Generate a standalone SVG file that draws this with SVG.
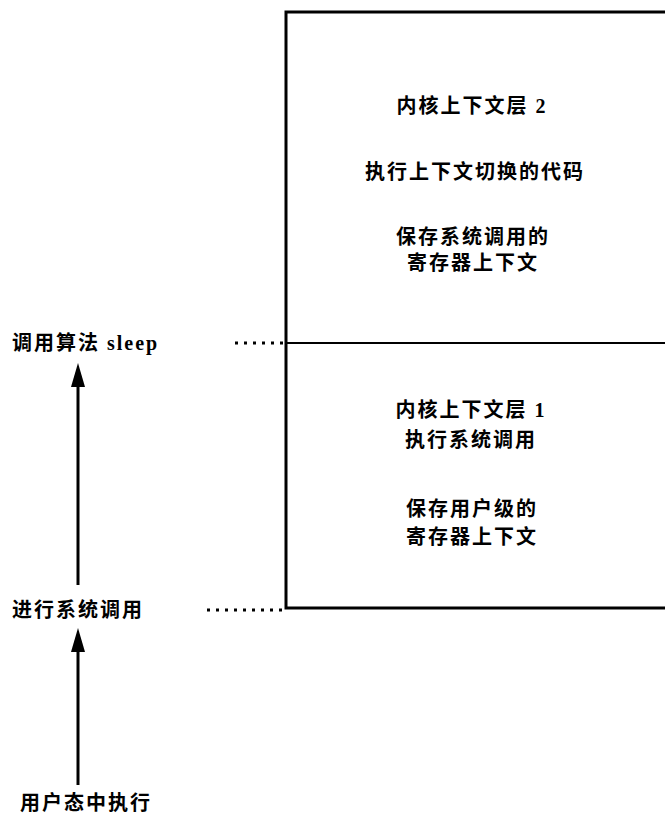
<svg xmlns="http://www.w3.org/2000/svg" width="665" height="815" viewBox="0 0 665 815">
<style>
  .t { font-family: "Liberation Serif", "Noto Sans CJK SC", serif; font-weight: bold; font-size: 20px; letter-spacing: 2px; fill: #000; }
  .c { text-anchor: middle; }
  .box { fill: none; stroke: #000; stroke-width: 3; }
  .div { fill: none; stroke: #000; stroke-width: 2; }
  .dot { fill: none; stroke: #000; stroke-width: 3; stroke-dasharray: 3 6; }
  .arr { fill: none; stroke: #000; stroke-width: 3; }
</style>
<defs>
  <marker id="ah" markerUnits="userSpaceOnUse" markerWidth="24" markerHeight="16" refX="2" refY="8" orient="auto" viewBox="0 0 24 16">
    <path d="M24,8 L0,15 L0,1 Z" fill="#000"/>
  </marker>
</defs>
<rect width="665" height="815" fill="#fff"/>
<g id="stack">
  <path class="box" d="M667,12 H286 V608 H667"/>
  <path class="div" d="M286,343 H667"/>
</g>
<g id="layer2">
  <text class="t c" x="472" y="113">内核上下文层 2</text>
  <text class="t c" x="475" y="179">执行上下文切换的代码</text>
  <text class="t c" x="473" y="244">保存系统调用的</text>
  <text class="t c" x="473" y="270">寄存器上下文</text>
</g>
<g id="layer1">
  <text class="t c" x="471" y="417">内核上下文层 1</text>
  <text class="t c" x="471" y="447">执行系统调用</text>
  <text class="t c" x="472" y="516">保存用户级的</text>
  <text class="t c" x="472" y="544">寄存器上下文</text>
</g>
<g id="sleep">
  <text class="t" x="12" y="350">调用算法 sleep</text>
</g>
<g id="syscall">
  <text class="t" x="12" y="617">进行系统调用</text>
</g>
<g id="user">
  <text class="t" x="20" y="810">用户态中执行</text>
</g>
<g id="connectors">
  <path class="dot" d="M235,343 H284"/>
  <path class="dot" d="M207,610 H284"/>
  <path class="arr" d="M78,585 V385" marker-end="url(#ah)"/>
  <path class="arr" d="M78,785 V650" marker-end="url(#ah)"/>
</g>
</svg>
